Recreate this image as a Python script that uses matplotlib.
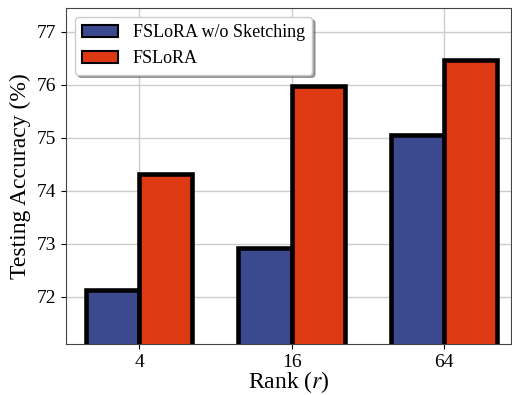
import matplotlib
matplotlib.use("Agg")
import matplotlib.pyplot as plt
import numpy as np

ranks = ["4", "16", "64"]
wo_sketch = [72.12, 72.92, 75.06]
fslora = [74.32, 75.97, 76.46]
series_names = ["FSLoRA w/o Sketching", "FSLoRA"]

plt.rcParams['font.family'] = ['Liberation Serif', 'DejaVu Serif']
plt.rcParams['mathtext.fontset'] = 'stix'

fig = plt.figure(figsize=(5.12, 3.95), dpi=100)
ax = fig.add_axes([66/512, 1-344/395, (511-66)/512, (344-8)/395])

x = np.arange(len(ranks))
w = 0.35
ax.bar(x - w/2, wo_sketch, w, color="#3B4A8F", edgecolor="black", linewidth=3.3, label=series_names[0], zorder=3)
ax.bar(x + w/2, fslora, w, color="#DD3A14", edgecolor="black", linewidth=3.3, label=series_names[1], zorder=3)

ax.set_ylim(71.11, 77.45)
ax.set_xlim(-0.48, 2.44)
ax.set_xticks(x)
ax.set_xticklabels(ranks, fontsize=14)
ax.set_yticks([72, 73, 74, 75, 76, 77])
ax.tick_params(axis='y', labelsize=14)
ax.grid(True, color="#cccccc", linewidth=1, zorder=0)
ax.set_axisbelow(True)
ax.set_xlabel("Rank ($r$)", fontsize=17, labelpad=-1)
ax.set_ylabel("Testing Accuracy (%)", fontsize=17)
for s in ax.spines.values():
    s.set_color("#444444")
leg = ax.legend(loc="upper left", fontsize=13, fancybox=True, shadow=True, framealpha=1)
for h in leg.legend_handles:
    h.set_linewidth(1.5)
fig.savefig("out.png", dpi=100)
